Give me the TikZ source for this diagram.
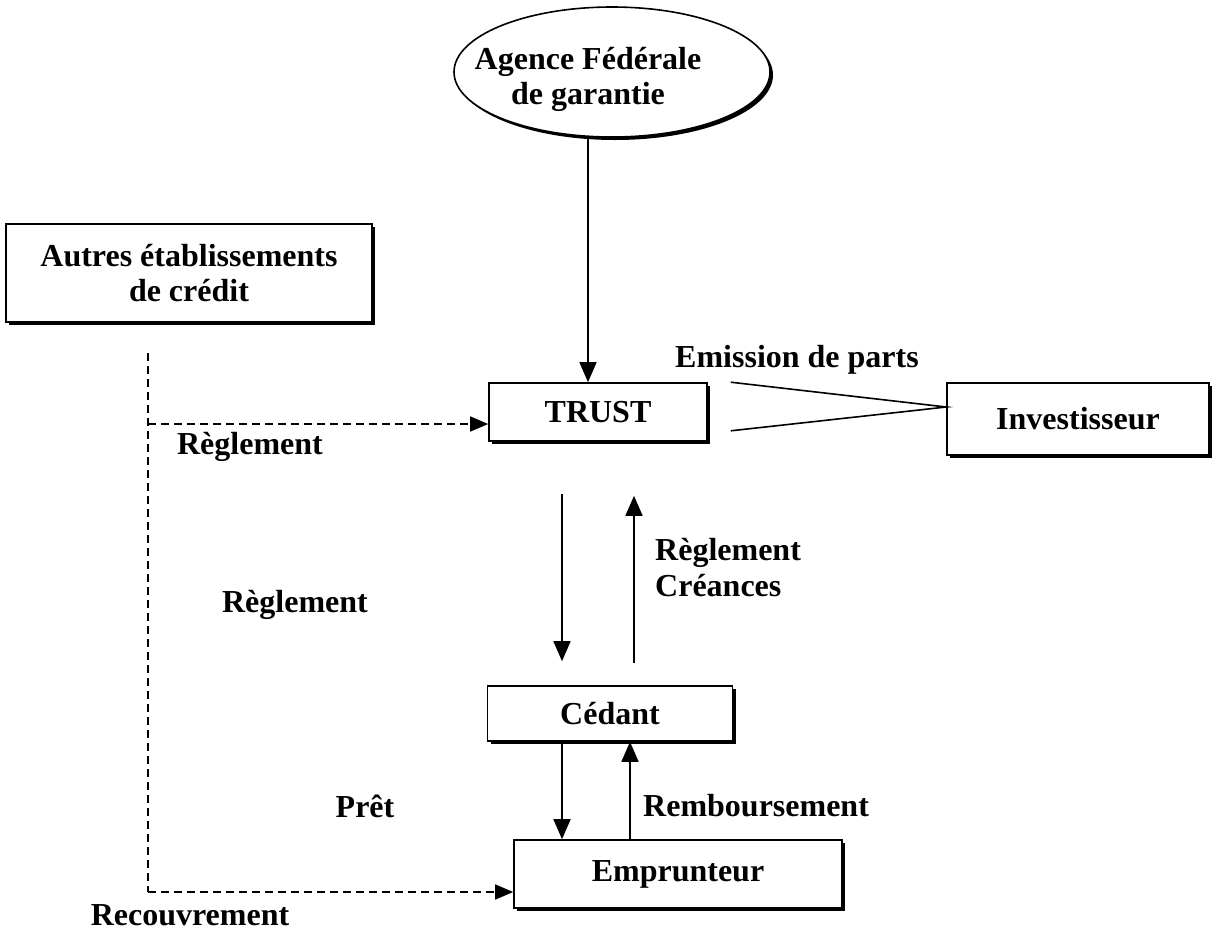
\documentclass[tikz,border=0pt]{standalone}
\usepackage{fontspec}
\setmainfont{Liberation Serif}
\usetikzlibrary{arrows.meta,shapes.geometric,shadows}
\tikzset{%
    >={Triangle[length=20pt,width=17pt]},
    entity/.style={draw, line width=1.6pt, fill=white, align=center,
        font=\bfseries\fontsize{32}{35}\selectfont,
        drop shadow={shadow xshift=3pt, shadow yshift=-3pt, fill=black, opacity=1}},
    flowtext/.style={font=\bfseries\fontsize{32}{35}\selectfont, inner sep=0pt, align=center},
    flow/.style={line width=1.6pt, ->},
    credit/.style={line width=1.6pt, dash pattern=on 8pt off 5pt},
    creditarrow/.style={credit, -{Triangle[length=18pt,width=15pt]}}
}

\begin{document}
\begin{tikzpicture}[x=1pt,y=-1pt]
      \useasboundingbox (0,0) rectangle (1212,932);

      \node[entity, ellipse, minimum width=316pt, minimum height=130pt] (agence) at (612,72) {};
      \node[flowtext] (agencetext) at (588,79) {Agence Fédérale\\de garantie};
      \node[entity, minimum width=366pt, minimum height=98pt] (autres) at (189,273) {Autres établissements\\de crédit};
      \node[entity, minimum width=218pt, minimum height=58pt] (trust) at (598,412) {TRUST};
      \node[entity, minimum width=262pt, minimum height=72pt] (invest) at (1078,419) {Investisseur};
      \node[entity, minimum width=245pt, minimum height=55pt] (cedant) at (610,713.5) {Cédant};
      \node[entity, minimum width=328pt, minimum height=68pt] (empr) at (678,874) {Emprunteur};

      % lanes of the vertical flows
      \coordinate (laneA) at (562,0);
      \coordinate (laneB) at (634,0);
      \coordinate (laneC) at (630,0);

      \draw[flow] (agencetext.center |- agence.south) -- (agencetext.center |- trust.north);

      \coordinate (emit) at ([yshift=12pt]invest.west);
      \draw[line width=1.6pt] ([xshift=23pt]trust.north east) -- (emit) -- ([xshift=23pt,yshift=11pt]trust.south east);
      \node[flowtext] (emission) at (797,360) {Emission de parts};

      \draw[flow, shorten <=52pt, shorten >=24pt] (trust.south -| laneA) -- (cedant.north -| laneA);
      \draw[flow, shorten <=22pt, shorten >=54pt] (cedant.north -| laneB) -- (trust.south -| laneB);
      \draw[flow] (cedant.south -| laneA) -- (empr.north -| laneA);
      \draw[flow] (empr.north -| laneC) -- (cedant.south -| laneC);

      % dashed credit lines
      \coordinate (dashtop) at (148,353);
      \coordinate (trustin) at ([yshift=-12pt]trust.west);
      \coordinate (emprin) at ([yshift=-18pt]empr.west);
      \draw[credit] (dashtop) -- (dashtop |- emprin);
      \draw[creditarrow] (dashtop |- trustin) -- (trustin);
      \draw[creditarrow] (dashtop |- emprin) -- (emprin);

      \node[flowtext] (reglA) at (250,447) {Règlement};
      \node[flowtext] (reglB) at (295,605) {Règlement};
      \node[flowtext, anchor=west] (reglC) at (655,553) {Règlement};
      \node[flowtext, anchor=west] (creances) at (655,586) {Créances};
      \node[flowtext] (pret) at (365,806) {Prêt};
      \node[flowtext, anchor=west] (rembours) at (643,806) {Remboursement};
      \node[flowtext] (recouv) at (190,915) {Recouvrement};
\end{tikzpicture}
\end{document}
